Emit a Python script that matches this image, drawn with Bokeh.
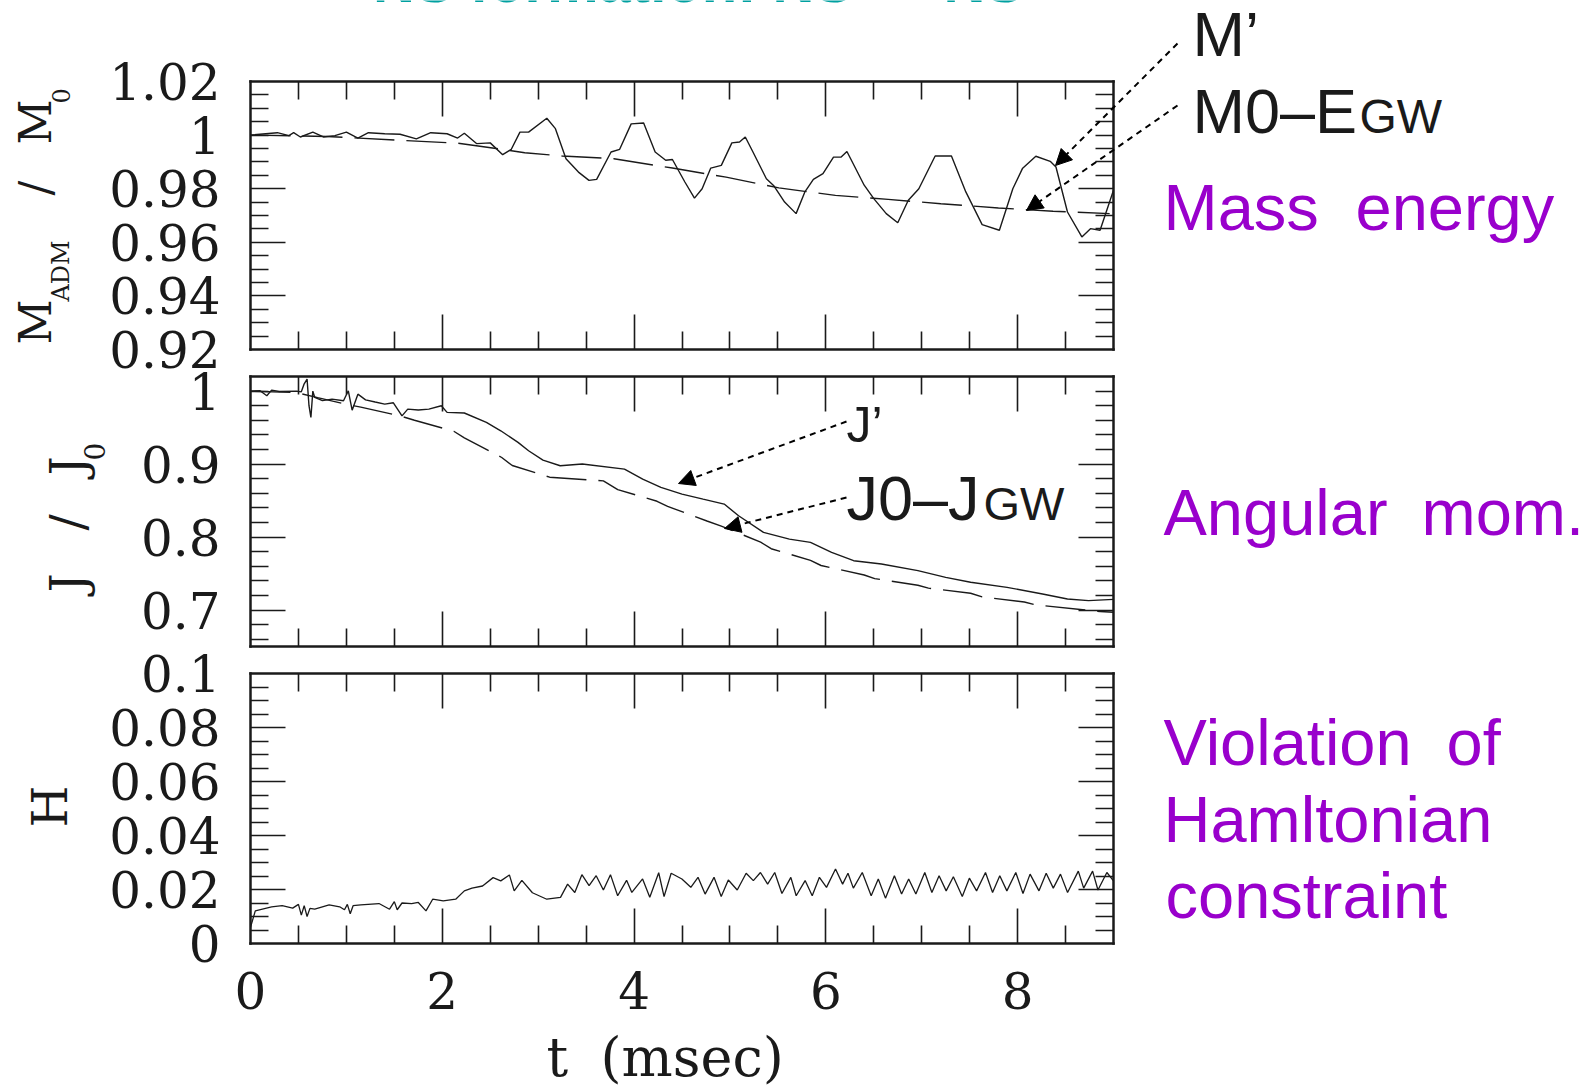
import math
from bokeh.plotting import figure
from bokeh.models import (Range1d, LinearAxis, FixedTicker, CustomJSTickFormatter,
                          Label, Arrow, NormalHead)
from bokeh.embed import file_html
from bokeh.resources import INLINE

# ---------------- data ----------------
t_mass = [0.00, 0.28, 0.40, 0.45, 0.52, 0.65, 0.76, 0.88, 1.00, 1.12, 1.23, 1.40, 1.56,
          1.73, 1.88, 2.05, 2.16, 2.23, 2.36, 2.50, 2.63, 2.72, 2.81, 2.90, 3.09, 3.18,
          3.29, 3.42, 3.53, 3.61, 3.76, 3.85, 3.97, 4.10, 4.22, 4.33, 4.40, 4.53, 4.63,
          4.71, 4.80, 4.91, 5.02, 5.10, 5.16, 5.24, 5.38, 5.46, 5.57, 5.69, 5.78, 5.87,
          5.97, 6.08, 6.16, 6.22, 6.40, 6.50, 6.63, 6.75, 6.86, 6.97, 7.14, 7.31, 7.46,
          7.63, 7.81, 7.95, 8.05, 8.19, 8.34, 8.40, 8.52, 8.67, 8.76, 8.86, 9.00]
m_prime = [1.0000, 1.0009, 0.9998, 1.0009, 0.9993, 1.0011, 0.9993, 0.9998, 1.0011, 0.9989,
           1.0009, 1.0005, 1.0003, 0.9986, 1.0009, 1.0005, 0.9989, 1.0007, 0.9968, 0.9971,
           0.9927, 0.9947, 1.0011, 1.0011, 1.0063, 1.0024, 0.9912, 0.9862, 0.9831, 0.9835,
           0.9937, 0.9947, 1.0042, 1.0045, 0.9937, 0.9906, 0.9909, 0.9825, 0.9765, 0.9800,
           0.9877, 0.9887, 0.9971, 0.9974, 0.9993, 0.9937, 0.9837, 0.9810, 0.9750, 0.9707,
           0.9787, 0.9835, 0.9856, 0.9918, 0.9918, 0.9939, 0.9813, 0.9763, 0.9707, 0.9673,
           0.9757, 0.9800, 0.9922, 0.9922, 0.9788, 0.9666, 0.9645, 0.9800, 0.9875, 0.9921,
           0.9902, 0.9881, 0.9713, 0.9620, 0.9651, 0.9645, 0.9794]

t_mgw = [0.0, 0.8, 1.6, 2.16, 2.7, 2.86, 3.25, 3.79, 4.40, 4.96, 5.51, 6.10, 6.65, 7.20,
         7.80, 8.37, 8.96]
m_gw = [1.0000, 0.9995, 0.9980, 0.9970, 0.9943, 0.9934, 0.9922, 0.9912, 0.9877, 0.9843,
        0.9803, 0.9775, 0.9760, 0.9744, 0.9728, 0.9716, 0.9707]

t_ang = [0.00, 0.10, 0.17, 0.22, 0.30, 0.48, 0.53, 0.56, 0.59, 0.61, 0.63, 0.65, 0.67,
         0.75, 0.85, 0.97, 1.00, 1.02, 1.06, 1.12, 1.20, 1.30, 1.40, 1.49, 1.58, 1.64,
         1.75, 1.86, 1.99, 2.05, 2.23, 2.46, 2.61, 2.79, 2.90, 3.05, 3.23, 3.46, 3.90,
         4.09, 4.28, 4.50, 4.72, 4.94, 5.09, 5.35, 5.62, 5.84, 6.06, 6.29, 6.58, 6.96,
         7.25, 7.51, 7.89, 8.26, 8.52, 8.74, 9.00]
j_prime = [1.0000, 1.0005, 0.9936, 1.0013, 0.9995, 1.0000, 0.9990, 1.0100, 1.0164, 0.9800,
           0.9638, 1.0000, 0.9913, 0.9870, 0.9890, 0.9867, 0.9950, 1.0004, 0.9739, 0.9958,
           0.9880, 0.9850, 0.9822, 0.9840, 0.9661, 0.9753, 0.9740, 0.9753, 0.9799, 0.9708,
           0.9700, 0.9571, 0.9456, 0.9297, 0.9182, 0.9054, 0.8977, 0.9000, 0.8931, 0.8794,
           0.8680, 0.8589, 0.8520, 0.8452, 0.8292, 0.8064, 0.7972, 0.7927, 0.7790, 0.7676,
           0.7630, 0.7539, 0.7448, 0.7380, 0.7311, 0.7220, 0.7151, 0.7128, 0.7146]

t_jgw = [0.00, 0.48, 0.70, 1.00, 1.15, 1.56, 1.71, 2.12, 2.23, 2.62, 2.73, 3.12, 3.68,
         3.83, 4.24, 4.35, 4.76, 4.91, 5.32, 5.43, 5.84, 5.95, 6.40, 6.51, 6.96, 7.07,
         7.51, 7.63, 8.07, 8.19, 8.86, 9.00]
j_gw = [1.0000, 0.9980, 0.9910, 0.9820, 0.9780, 0.9660, 0.9600, 0.9450, 0.9360, 0.9090,
        0.8980, 0.8820, 0.8770, 0.8650, 0.8490, 0.8420, 0.8220, 0.8150, 0.7930, 0.7840,
        0.7680, 0.7610, 0.7480, 0.7430, 0.7340, 0.7300, 0.7230, 0.7180, 0.7110, 0.7070,
        0.6980, 0.6970]

t_ham = [0.00, 0.05, 0.22, 0.33, 0.44, 0.50, 0.53, 0.56, 0.59, 0.62, 0.67, 0.82, 0.93,
         0.98, 1.01, 1.04, 1.07, 1.15, 1.34, 1.45, 1.50, 1.53, 1.58, 1.68, 1.75, 1.83,
         1.90, 2.01, 2.14, 2.23, 2.31, 2.42, 2.53, 2.61, 2.70, 2.75, 2.83, 2.94, 3.09,
         3.233, 3.307, 3.382, 3.456, 3.531, 3.605, 3.680, 3.754, 3.829, 3.922, 3.977,
         4.089, 4.164, 4.257, 4.313, 4.387, 4.499, 4.592, 4.667, 4.741, 4.834, 4.909,
         4.983, 5.076, 5.169, 5.244, 5.318, 5.393, 5.467, 5.542, 5.635, 5.691, 5.784,
         5.858, 5.933, 6.007, 6.101, 6.175, 6.231, 6.287, 6.380, 6.473, 6.547, 6.622,
         6.715, 6.790, 6.864, 6.939, 7.032, 7.106, 7.181, 7.255, 7.330, 7.423, 7.497,
         7.572, 7.665, 7.739, 7.814, 7.888, 7.981, 8.056, 8.130, 8.223, 8.298, 8.372,
         8.447, 8.521, 8.633, 8.689, 8.782, 8.838, 8.931, 8.998]
h_viol = [0.0060, 0.0121, 0.0136, 0.0140, 0.0131, 0.0145, 0.0105, 0.0140, 0.0100, 0.0130,
          0.0127, 0.0143, 0.0136, 0.0125, 0.0145, 0.0110, 0.0140, 0.0143, 0.0148, 0.0127,
          0.0155, 0.0125, 0.0150, 0.0148, 0.0152, 0.0121, 0.0164, 0.0158, 0.0164, 0.0195,
          0.0205, 0.0213, 0.0244, 0.0232, 0.0254, 0.0195, 0.0234, 0.0188, 0.0164,
          0.0171, 0.0220, 0.0189, 0.0255, 0.0214, 0.0251, 0.0198, 0.0255, 0.0177, 0.0234,
          0.0189, 0.0239, 0.0171, 0.0262, 0.0174, 0.0260, 0.0239, 0.0208, 0.0245, 0.0183,
          0.0245, 0.0174, 0.0235, 0.0198, 0.0260, 0.0233, 0.0263, 0.0220, 0.0263, 0.0185,
          0.0245, 0.0177, 0.0233, 0.0177, 0.0245, 0.0208, 0.0276, 0.0220, 0.0260, 0.0205,
          0.0263, 0.0177, 0.0239, 0.0168, 0.0251, 0.0183, 0.0239, 0.0183, 0.0263, 0.0189,
          0.0251, 0.0195, 0.0247, 0.0174, 0.0242, 0.0195, 0.0263, 0.0189, 0.0251, 0.0195,
          0.0263, 0.0185, 0.0257, 0.0195, 0.0260, 0.0205, 0.0257, 0.0189, 0.0268, 0.0205,
          0.0268, 0.0198, 0.0263, 0.0233]

# ticks: labelled positions, long ticks, short ticks
x_labels = [0, 2, 4, 6, 8]
x_long = [2, 4, 6, 8]
x_short = [0.5, 1, 1.5, 2.5, 3, 3.5, 4.5, 5, 5.5, 6.5, 7, 7.5, 8.5]
mass_labels = [0.92, 0.94, 0.96, 0.98, 1.00, 1.02]
mass_long = [0.94, 0.96, 0.98]
mass_short = [0.925, 0.93, 0.935, 0.945, 0.95, 0.955, 0.965, 0.97, 0.975, 0.985, 0.99,
              0.995, 1.0, 1.005, 1.01, 1.015]
ang_labels = [0.7, 0.8, 0.9, 1.0]
ang_long = [0.7, 0.8, 0.9]
ang_short = [0.66, 0.68, 0.72, 0.74, 0.76, 0.78, 0.82, 0.84, 0.86, 0.88, 0.92, 0.94,
             0.96, 0.98, 1.0]
ham_labels = [0.0, 0.02, 0.04, 0.06, 0.08, 0.10]
ham_long = [0.02, 0.04, 0.06, 0.08]
ham_short = [0.005, 0.01, 0.015, 0.025, 0.03, 0.035, 0.045, 0.05, 0.055, 0.065, 0.07,
             0.075, 0.085, 0.09, 0.095]

# ---------------- layout constants (page pixels) ----------------
W, H = 1596, 1091
FL, FR = 250, 1113          # panel left / right edge
XR = (0.0, 9.0)
INK = "#1a1a1a"
PURPLE = "#9900cc"
TEAL = "#00a0a0"
SERIF = "DejaVu Serif"
SANS = "Liberation Sans"
BASE_SHIFT = {SANS: 0.36, SERIF: 0.44}

panels = [
    dict(name="mass", ftop=81, fbot=349, yr=(0.92, 1.02), lab=mass_labels,
         long=mass_long, short=mass_short, xlab=False),
    dict(name="ang", ftop=376, fbot=646, yr=(0.65, 1.02), lab=ang_labels,
         long=ang_long, short=ang_short, xlab=False),
    dict(name="ham", ftop=673, fbot=943, yr=(0.0, 0.10), lab=ham_labels,
         long=ham_long, short=ham_short, xlab=True),
]

kx = (XR[1] - XR[0]) / (FR - FL)
p = figure(width=W, height=H,
           x_range=Range1d(XR[0] - FL * kx, XR[0] + (W - FL) * kx),
           y_range=Range1d(0, H),
           output_backend="svg", toolbar_location=None, min_border=0,
           x_axis_location=None, y_axis_location=None,
           outline_line_color=None, background_fill_color="white",
           border_fill_color="white")
p.grid.visible = False

for s in panels:
    y0, y1 = s["yr"]
    ky = (y1 - y0) / (s["fbot"] - s["ftop"])
    p.extra_y_ranges[s["name"]] = Range1d(y0 - (H - s["fbot"]) * ky, y1 + s["ftop"] * ky)


def base_axis(s, loc, ticker):
    y0, y1 = s["yr"]
    if loc in ("left", "right"):
        fixed = XR[0] if loc == "left" else XR[1]
        bounds = (y0, y1)
    else:
        fixed = y0 if loc == "below" else y1
        bounds = XR
    return LinearAxis(ticker=ticker, y_range_name=s["name"], fixed_location=fixed,
                      bounds=bounds)


def tick_axis(s, loc):
    if loc in ("left", "right"):
        ticker = FixedTicker(ticks=s["long"], minor_ticks=s["short"])
    else:
        ticker = FixedTicker(ticks=x_long, minor_ticks=x_short)
    ax = base_axis(s, loc, ticker)
    ax.major_tick_in = 35
    ax.major_tick_out = 0
    ax.minor_tick_in = 18
    ax.minor_tick_out = 0
    ax.major_tick_line_width = 1.6
    ax.minor_tick_line_width = 1.6
    ax.major_tick_line_color = INK
    ax.minor_tick_line_color = INK
    ax.axis_line_width = 2.5
    ax.axis_line_color = INK
    ax.axis_line_cap = "square"
    ax.formatter = CustomJSTickFormatter(code="return '';")
    ax.major_label_text_font_size = "1px"
    ax.major_label_standoff = 0
    p.add_layout(ax, loc)


def label_axis(s, loc):
    ticks = s["lab"] if loc == "left" else x_labels
    ax = base_axis(s, loc, FixedTicker(ticks=ticks, minor_ticks=[]))
    ax.major_tick_in = 0
    ax.major_tick_out = 0
    ax.major_tick_line_color = None
    ax.minor_tick_line_color = None
    ax.axis_line_color = None
    ax.formatter = CustomJSTickFormatter(code="return String(parseFloat(tick.toFixed(4)));")
    ax.major_label_text_font = SERIF
    ax.major_label_text_font_size = "50px"
    ax.major_label_text_color = INK
    ax.major_label_standoff = 30 if loc == "left" else 28
    p.add_layout(ax, loc)


for s in panels:
    for loc in ("left", "right", "below", "above"):
        tick_axis(s, loc)
    label_axis(s, "left")
    if s["xlab"]:
        label_axis(s, "below")

# curves
p.line(t_mass, m_prime, y_range_name="mass", line_color=INK, line_width=1.4)
p.line(t_mgw, m_gw, y_range_name="mass", line_color=INK, line_width=1.4, line_dash="40 12")
p.line(t_ang, j_prime, y_range_name="ang", line_color=INK, line_width=1.4)
p.line(t_jgw, j_gw, y_range_name="ang", line_color=INK, line_width=1.4, line_dash="40 12")
p.line(t_ham, h_viol, y_range_name="ham", line_color=INK, line_width=1.3)

UP = math.pi / 2


def label(text, px, py, size, color=INK, font=SANS, angle=0.0, align="left",
          style="normal"):
    # (px, py): wanted baseline start in page pixels (top-left origin)
    d = BASE_SHIFT[font] * size
    if angle:
        px = px - d
    else:
        py = py - d
    p.add_layout(Label(x=px, y=H - py, x_units="screen", y_units="screen",
                       text=text, text_font=font,
                       text_font_size=f"{size}px", text_color=color, angle=angle,
                       text_align=align, text_baseline="alphabetic",
                       text_font_style=style))


def arrow(p0, p1):
    p.add_layout(Arrow(x_start=p0[0], y_start=H - p0[1], x_end=p1[0], y_end=H - p1[1],
                       start_units="screen", end_units="screen",
                       line_color="black", line_width=2, line_dash="6 5",
                       end=NormalHead(size=16, fill_color="black", line_color="black",
                                      line_width=1)))


# title (cut off at the top edge, as in the source slide)
label("NS formation: NS \u2192 NS", 698, 2, 58, color=TEAL, align="center", style="bold")

# y-axis titles
label("M", 54, 344, 44, font=SERIF, angle=UP)
label("ADM", 71, 301, 24, font=SERIF, angle=UP)
label("/", 54, 195, 44, font=SERIF, angle=UP)
label("M", 54, 144, 44, font=SERIF, angle=UP)
label("0", 71, 103, 24, font=SERIF, angle=UP)

label("J", 89, 592, 48, font=SERIF, angle=UP)
label("/", 89, 530, 48, font=SERIF, angle=UP)
label("J", 89, 475, 48, font=SERIF, angle=UP)
label("0", 106, 460, 28, font=SERIF, angle=UP)

label("H", 71, 827, 48, font=SERIF, angle=UP)

# x-axis title
label("t", 546, 1081, 54, font=SERIF)
label("(msec)", 600, 1081, 54, font=SERIF)

# curve annotations
label("M\u2019", 1192, 56, 63)
label("M0\u2013E", 1192, 133, 63)
label("GW", 1359, 133, 48)
arrow((1177, 43), (1055, 165))
arrow((1177, 105), (1026, 210))

label("J\u2019", 846, 442, 50)
label("J0\u2013J", 846, 520, 63)
label("GW", 983, 520, 47)
arrow((846, 421), (678, 483))
arrow((846, 497), (724, 528))

# side captions
label("Mass", 1163, 230, 65, color=PURPLE)
label("energy", 1355, 230, 65, color=PURPLE)
label("Angular", 1163, 535, 65, color=PURPLE)
label("mom.", 1421, 535, 65, color=PURPLE)
label("Violation", 1163, 765, 65, color=PURPLE)
label("of", 1446, 765, 65, color=PURPLE)
label("Hamltonian", 1163, 842, 65, color=PURPLE)
label("constraint", 1165, 918, 65, color=PURPLE)

open("out.html", "w").write(file_html(p, INLINE))
